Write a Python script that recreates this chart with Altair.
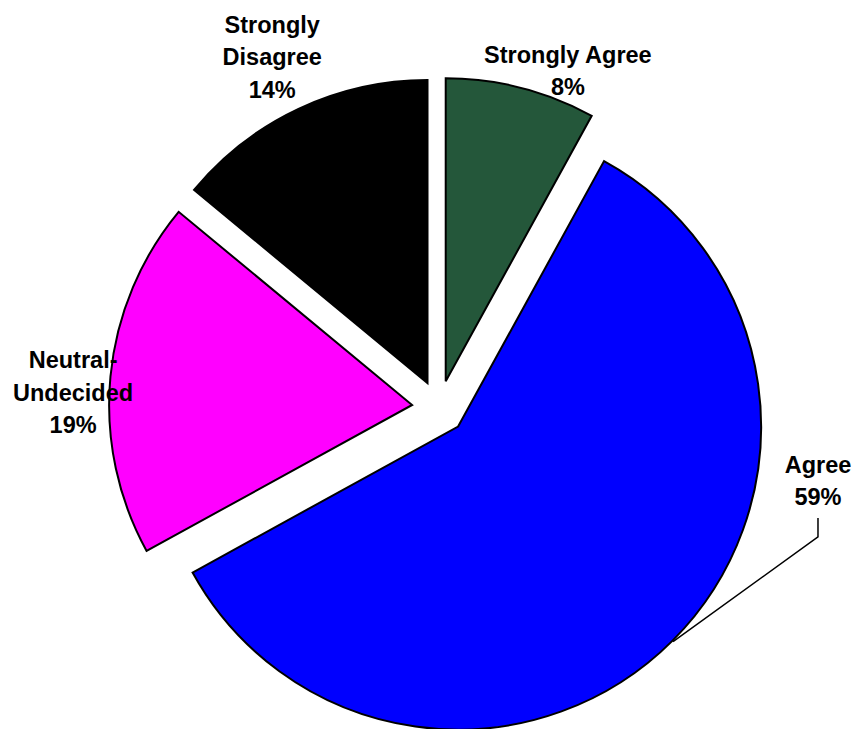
import math
import altair as alt
import pandas as pd

# ---- data ----
categories = ["Strongly Agree", "Agree", "Neutral-Undecided", "Strongly Disagree"]
percents = [8, 59, 19, 14]
name_lines = [["Strongly Agree"], ["Agree"], ["Neutral-", "Undecided"], ["Strongly", "Disagree"]]

# ---- styles / layout ----
colors = ["#24573a", "#0000ff", "#ff00ff", "#000000"]
W, H = 845, 721
CX, CY = 431, 399.5        # pie centre (before explosion)
RADIUS = 303
EXPLODE = 27
# label anchor (first baseline) in polar form around the pie centre
label_angle_deg = [20.5, 99.8, 276.1, 336.0]
label_dist = [368, 384.6, 368, 410]
FONT = "Liberation Sans"
FS = 23.5
LH = 32.5

total = sum(percents)
rows = []
cum = 0
for i, (cat, p) in enumerate(zip(categories, percents)):
    start = 2 * math.pi * cum / total
    cum += p
    end = 2 * math.pi * cum / total
    mid = (start + end) / 2
    cx = CX + EXPLODE * math.sin(mid)
    cy = CY - EXPLODE * math.cos(mid)
    la = math.radians(label_angle_deg[i])
    lx = CX + label_dist[i] * math.sin(la)
    ly = CY - label_dist[i] * math.cos(la)
    rows.append(dict(category=cat, pct=p, start=start, end=end, mid=mid,
                     cx=cx, cy=cy, lx=lx, ly=ly,
                     label=name_lines[i] + [f"{p}%"]))
df = pd.DataFrame(rows)

# leader line for the "Agree" label
a = df[df.category == "Agree"].iloc[0]
leader = pd.DataFrame({
    "i": [0, 1, 2],
    "x": [a.cx + (RADIUS + 1) * math.sin(a.mid), a.lx, a.lx],
    "y": [a.cy - (RADIUS + 1) * math.cos(a.mid), a.ly + 64, a.ly + 45],
})

arcs = alt.Chart(df).mark_arc(radius=RADIUS, stroke="black", strokeWidth=2,
                              strokeJoin="miter").encode(
    theta=alt.Theta("start:Q", scale=None, stack=False),
    theta2="end:Q",
    x=alt.X("cx:Q", scale=None, axis=None),
    y=alt.Y("cy:Q", scale=None, axis=None),
    color=alt.Color("category:N", scale=alt.Scale(domain=categories, range=colors),
                    legend=None),
)

lead = alt.Chart(leader).mark_line(color="black", strokeWidth=1.5).encode(
    x=alt.X("x:Q", scale=None, axis=None),
    y=alt.Y("y:Q", scale=None, axis=None),
    order="i:O",
)

labels = alt.Chart(df).mark_text(font=FONT, fontSize=FS, fontWeight="bold",
                                 align="center", baseline="alphabetic",
                                 lineHeight=LH, color="black").encode(
    x=alt.X("lx:Q", scale=None, axis=None),
    y=alt.Y("ly:Q", scale=None, axis=None),
    text="label",
)

chart = alt.layer(arcs, lead, labels).properties(
    width=W, height=H, padding=0,
    autosize=alt.AutoSizeParams(type="none"),
).configure_view(stroke=None)

chart.save("out.html", embed_options={"renderer": "svg", "actions": False})
